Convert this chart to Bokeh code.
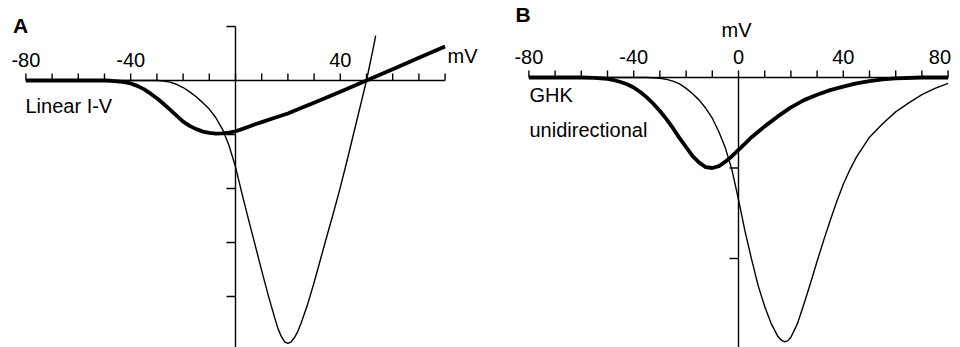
from bokeh.plotting import figure
from bokeh.layouts import row
from bokeh.models import Range1d, ColumnDataSource
from bokeh.core.properties import value
from bokeh.embed import file_html
from bokeh.resources import INLINE

# ---------------- data ----------------
X_TICKS = [-80, -70, -60, -50, -40, -30, -20, -10, 0, 10, 20, 30, 40, 50, 60, 70, 80]
A_LABEL_POS = [-80, -40, 40]
A_LABEL_TXT = ["-80", "-40", "40"]
B_LABEL_POS = [-80, -40, 0, 40]
B_LABEL_TXT = ["-80", "-40", "0", "40"]
B_LAST_POS = [80]
B_LAST_TXT = ["80"]
A_Y_TICKS = [1, -1, -2, -3, -4]
B_Y_TICKS = [-1, -2]

# Panel A: linear I-V
A_THICK_V = [-80, -60, -50, -47.5, -45, -42.5, -40, -37.5, -35, -32.5, -30, -27.5, -25, -22.5,
             -20, -17.5, -15, -12.5, -10, -7.5, -5, -2.5, 0, 2.5, 5, 7.5, 10, 15, 20, 25, 30,
             40, 50, 60, 70, 80]
A_THICK_I = [0, 0, 0, -0.005, -0.015, -0.03, -0.055, -0.1, -0.16, -0.24, -0.33, -0.43, -0.54, -0.65,
             -0.76, -0.84, -0.9, -0.945, -0.97, -0.985, -0.98, -0.965, -0.94, -0.9, -0.855, -0.81,
             -0.77, -0.69, -0.61, -0.51, -0.41, -0.21, 0, 0.21, 0.42, 0.63]
A_THIN_V = [-80, -40, -30, -27.5, -25, -22.5, -20, -17.5, -15, -12.5, -10, -7.5, -5, -2.5, 0,
            2.5, 5, 7.5, 10, 12.5, 15, 16.25, 17.5, 18.75, 20, 21.25, 22.5, 23.75, 25, 27.5, 30,
            32.5, 35, 37.5, 40, 42.5, 45, 47.5, 50, 52.5, 53.5]
A_THIN_I = [0, 0, 0, -0.01, -0.03, -0.07, -0.13, -0.21, -0.3, -0.41, -0.53, -0.69, -0.9, -1.2, -1.6,
            -2.1, -2.58, -3.05, -3.52, -3.98, -4.4, -4.6, -4.74, -4.84, -4.87, -4.84, -4.76, -4.65,
            -4.5, -4.15, -3.74, -3.3, -2.86, -2.43, -1.98, -1.5, -1.0, -0.5, 0, 0.58, 0.83]

# Panel B: GHK unidirectional
B_THICK_V = [-80, -60, -55, -50, -47.5, -45, -42.5, -40, -37.5, -35, -32.5, -30, -27.5, -25, -22.5,
             -20, -17.5, -15, -12.5, -10, -7.5, -5, -2.5, 0, 2.5, 5, 7.5, 10, 15, 20, 25, 30, 35,
             40, 45, 50, 55, 60, 70, 80]
B_THICK_I = [0, 0, -0.005, -0.015, -0.03, -0.05, -0.075, -0.11, -0.16, -0.22, -0.29, -0.37, -0.46,
             -0.56, -0.67, -0.77, -0.87, -0.94, -0.99, -1.0, -0.98, -0.93, -0.87, -0.8, -0.73, -0.66,
             -0.6, -0.54, -0.43, -0.33, -0.25, -0.19, -0.14, -0.1, -0.065, -0.04, -0.02, -0.01, 0, 0]
B_THIN_V = [-80, -35, -30, -27.5, -25, -22.5, -20, -17.5, -15, -12.5, -10, -7.5, -5, -2.5, 0, 2.5,
            5, 7.5, 10, 12.5, 15, 16.25, 17.5, 18.75, 20, 22.5, 25, 27.5, 30, 32.5, 35, 37.5, 40,
            42.5, 45, 50, 55, 60, 65, 70, 75, 80]
B_THIN_I = [0, 0, -0.01, -0.02, -0.04, -0.07, -0.12, -0.18, -0.25, -0.34, -0.45, -0.6, -0.78, -1.02,
            -1.35, -1.7, -2.01, -2.3, -2.53, -2.72, -2.86, -2.9, -2.92, -2.91, -2.87, -2.72, -2.5,
            -2.27, -2.03, -1.8, -1.58, -1.37, -1.18, -1.02, -0.88, -0.66, -0.51, -0.38, -0.28,
            -0.19, -0.12, -0.065]

# ---------------- styling / geometry ----------------
W, H = 480, 347
PX_PER_MV = 2.62
KA = 54.0   # px per current unit, panel A
KB = 90.5   # px per current unit, panel B
TS = 8.0    # text baseline correction, px
FONT = value("Liberation Sans")
FS = value("20px")
FSB = value("21px")
AXIS_W = 1.4
THIN_W = 1.4
THICK_W = 3.8


def make_fig(xmin, ymax, ky):
    xr = Range1d(xmin, xmin + W / PX_PER_MV)
    yr = Range1d(ymax - H / ky, ymax)
    p = figure(width=W, height=H, x_range=xr, y_range=yr, output_backend="svg",
               toolbar_location=None, min_border=0)
    p.axis.visible = False
    p.grid.visible = False
    p.outline_line_color = None
    p.background_fill_color = "white"
    p.border_fill_color = "white"
    return p


def draw_axes(p, ky, y_top, y_ticks, label_pos, label_txt):
    ymin = p.y_range.start
    p.segment(x0=[X_TICKS[0]], y0=[0], x1=[X_TICKS[-1]], y1=[0], line_color="black", line_width=AXIS_W)
    tick_up = 7.0 / ky
    p.segment(x0=X_TICKS, y0=[0] * len(X_TICKS), x1=X_TICKS, y1=[tick_up] * len(X_TICKS),
              line_color="black", line_width=AXIS_W)
    p.segment(x0=[0], y0=[ymin], x1=[0], y1=[y_top], line_color="black", line_width=AXIS_W)
    tl = 9.0 / PX_PER_MV
    p.segment(x0=[-tl] * len(y_ticks), y0=y_ticks, x1=[0] * len(y_ticks), y1=y_ticks,
              line_color="black", line_width=AXIS_W)
    src = ColumnDataSource(dict(x=label_pos, y=[(13.0 + TS) / ky] * len(label_pos), t=label_txt))
    p.text(x="x", y="y", text="t", source=src, text_font=FONT, text_font_size=FS,
           text_align="center", text_baseline="alphabetic", text_color="black")


# ---------------- Panel A ----------------
pA = make_fig(-235.0 / PX_PER_MV, 80.0 / KA, KA)
draw_axes(pA, KA, 1.0, A_Y_TICKS, A_LABEL_POS, A_LABEL_TXT)
pA.line(A_THIN_V, A_THIN_I, line_color="black", line_width=THIN_W, line_join="round")
pA.line(A_THICK_V, A_THICK_I, line_color="black", line_width=THICK_W, line_join="round")
pA.text(x=[(20 - 235) / PX_PER_MV], y=[(80 - 33 + TS) / KA], text=["A"], text_font=FONT,
        text_font_size=FSB, text_font_style="bold", text_align="center", text_baseline="alphabetic")
pA.text(x=[(447 - 235) / PX_PER_MV], y=[(80 - 63 + TS) / KA], text=["mV"], text_font=FONT,
        text_font_size=FS, text_align="left", text_baseline="alphabetic")
pA.text(x=[(25 - 235) / PX_PER_MV], y=[(80 - 113 + TS) / KA], text=["Linear I-V"], text_font=FONT,
        text_font_size=FS, text_align="left", text_baseline="alphabetic")

# ---------------- Panel B ----------------
pB = make_fig(-(738 - 480) / PX_PER_MV, 77.0 / KB, KB)
draw_axes(pB, KB, 0.0, B_Y_TICKS, B_LABEL_POS, B_LABEL_TXT)
pB.text(x=B_LAST_POS, y=[(13.0 + TS) / KB], text=B_LAST_TXT, text_font=FONT, text_font_size=FS,
        text_align="right", text_baseline="alphabetic", x_offset=3)
pB.line(B_THIN_V, B_THIN_I, line_color="black", line_width=THIN_W, line_join="round")
pB.line(B_THICK_V, B_THICK_I, line_color="black", line_width=THICK_W, line_join="round")
pB.text(x=[(522.5 - 738) / PX_PER_MV], y=[(77 - 22 + TS) / KB], text=["B"], text_font=FONT,
        text_font_size=FSB, text_font_style="bold", text_align="center", text_baseline="alphabetic")
pB.text(x=[(736 - 738) / PX_PER_MV], y=[(77 - 37 + TS) / KB], text=["mV"], text_font=FONT,
        text_font_size=FS, text_align="center", text_baseline="alphabetic")
pB.text(x=[(529 - 738) / PX_PER_MV], y=[(77 - 102 + TS) / KB], text=["GHK"], text_font=FONT,
        text_font_size=FS, text_align="left", text_baseline="alphabetic")
pB.text(x=[(529 - 738) / PX_PER_MV], y=[(77 - 137 + TS) / KB], text=["unidirectional"], text_font=FONT,
        text_font_size=FS, text_align="left", text_baseline="alphabetic")

layout = row(pA, pB, spacing=0)
open("out.html", "w").write(file_html(layout, INLINE))
